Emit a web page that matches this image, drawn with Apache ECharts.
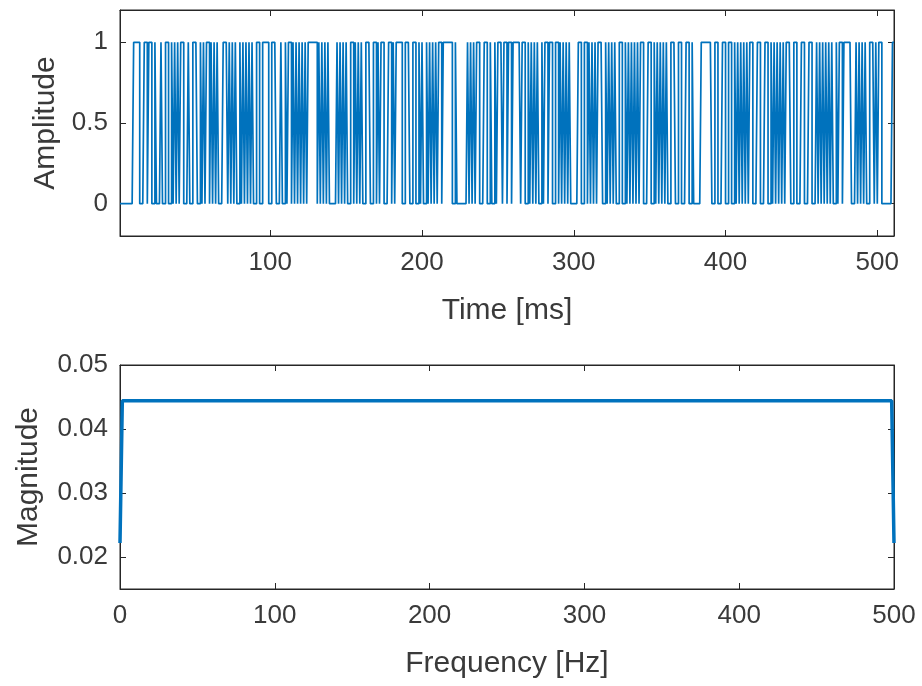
<!DOCTYPE html>
<html>
<head>
<meta charset="utf-8">
<script src="https://cdn.jsdelivr.net/npm/echarts@6/dist/echarts.min.js"></script>
<style>
html,body{margin:0;padding:0;background:#fff;}
#chart{width:922px;height:686px;}
</style>
</head>
<body>
<div id="chart"></div>
<script>
// ---- data ----
// binary amplitude sequence (one char per 1 ms sample, t = 1..511)
const amplitudeBits = [
  "000000000" + "1111" + "000" + "110110010001001100" + "101010" + "1100010011100" + "101011010101" + "000111",
  "01010100101010101" + "001100" + "111100" + "111000" + "10010110" + "1010101010" + "111111" + "01010101",
  "00000" + "1010101" + "0011" + "010101" + "001110011" + "010" + "1100011" + "010" + "111100111" + "001100",
  "1010010101010" + "110" + "111111001" + "00000001" + "01010" + "110001100" + "10010111011" + "0110",
  "111110" + "1100" + "1010101" + "001011011" + "0011" + "01010101" + "00000" + "110011" + "0101010",
  "11100" + "1010101" + "001100" + "1010101010" + "110001100" + "101010101" + "00111" + "001100011001",
  "00000" + "111111100" + "1100011001100" + "1010101010" + "11000110001100" + "1010101010" + "111" + "0011",
  "0001100011000" + "1010101010" + "10010110" + "11111000" + "1010101" + "00111" + "01011" + "0000000" + "11"
];
const timeStart = 1;               // ms
const freqHz   = [0, 1.5, 498.5, 500];
const magnitude = [0.0222, 0.0444, 0.0444, 0.0222];

const timeTicks = [100, 200, 300, 400, 500];
const ampTicks  = [0, 0.5, 1];
const freqTicks = [0, 100, 200, 300, 400, 500];
const magTicks  = [0.02, 0.03, 0.04, 0.05];

// ---- build ----
const bits = amplitudeBits.join('').split('').map(Number);
const ampData = bits.map((b, i) => [timeStart + i, b]);
const tEnd = timeStart + bits.length - 1;
const magData = freqHz.map((f, i) => [f, magnitude[i]]);

const FONT = "'Liberation Sans', Arial, Helvetica, sans-serif";
const AX = '#262626';
const TXT = '#3a3a3a';
const BLUE = '#0072BD';

function xAx(grid, min, max, ticks, name, primary) {
  const a = {
    type: 'value', gridIndex: grid, min: min, max: max,
    position: primary ? 'bottom' : 'top',
    axisLine: { show: true, onZero: false, lineStyle: { color: AX, width: 1 } },
    axisTick: { show: true, inside: true, length: 6, lineStyle: { color: AX }, customValues: ticks },
    axisLabel: { show: primary, customValues: ticks, fontFamily: FONT, fontSize: 26, color: TXT, margin: 14 },
    splitLine: { show: false }
  };
  if (primary) {
    a.name = name; a.nameLocation = 'middle'; a.nameGap = 60;
    a.nameTextStyle = { fontFamily: FONT, fontSize: 30, color: TXT };
  }
  return a;
}
function yAx(grid, min, max, ticks, name, primary, gap, fmt) {
  const a = {
    type: 'value', gridIndex: grid, min: min, max: max,
    position: primary ? 'left' : 'right',
    axisLine: { show: true, onZero: false, lineStyle: { color: AX, width: 1 } },
    axisTick: { show: true, inside: true, length: 6, lineStyle: { color: AX }, customValues: ticks },
    axisLabel: { show: primary, customValues: ticks, fontFamily: FONT, fontSize: 26, color: TXT, margin: 12,
                 formatter: fmt },
    splitLine: { show: false }
  };
  if (primary) {
    a.name = name; a.nameLocation = 'middle'; a.nameGap = gap; a.nameRotate = 90;
    a.nameTextStyle = { fontFamily: FONT, fontSize: 30, color: TXT };
  }
  return a;
}

const chart = echarts.init(document.getElementById('chart'), null, { renderer: 'canvas' });
chart.setOption({
  animation: false,
  backgroundColor: '#ffffff',
  grid: [
    { left: 120, top: 10, width: 774, height: 226, show: true, borderColor: AX, borderWidth: 1, containLabel: false },
    { left: 120, top: 365, width: 774, height: 224, show: true, borderColor: AX, borderWidth: 1, containLabel: false }
  ],
  xAxis: [
    xAx(0, timeStart, tEnd, timeTicks, 'Time [ms]', true),
    xAx(0, timeStart, tEnd, timeTicks, '', false),
    xAx(1, 0, 500, freqTicks, 'Frequency [Hz]', true),
    xAx(1, 0, 500, freqTicks, '', false)
  ],
  yAxis: [
    yAx(0, -0.2, 1.2, ampTicks, 'Amplitude', true, 56, v => String(v)),
    yAx(0, -0.2, 1.2, ampTicks, '', false),
    yAx(1, 0.015, 0.05, magTicks, 'Magnitude', true, 76, v => v.toFixed(2)),
    yAx(1, 0.015, 0.05, magTicks, '', false)
  ],
  series: [
    {
      type: 'line', xAxisIndex: 0, yAxisIndex: 0, data: ampData, step: 'end',
      showSymbol: false, symbol: 'none', clip: false,
      lineStyle: { color: BLUE, width: 1.7 }
    },
    {
      type: 'line', xAxisIndex: 2, yAxisIndex: 2, data: magData,
      showSymbol: false, symbol: 'none', clip: false,
      lineStyle: { color: BLUE, width: 3.5 }
    }
  ]
});
</script>
</body>
</html>
